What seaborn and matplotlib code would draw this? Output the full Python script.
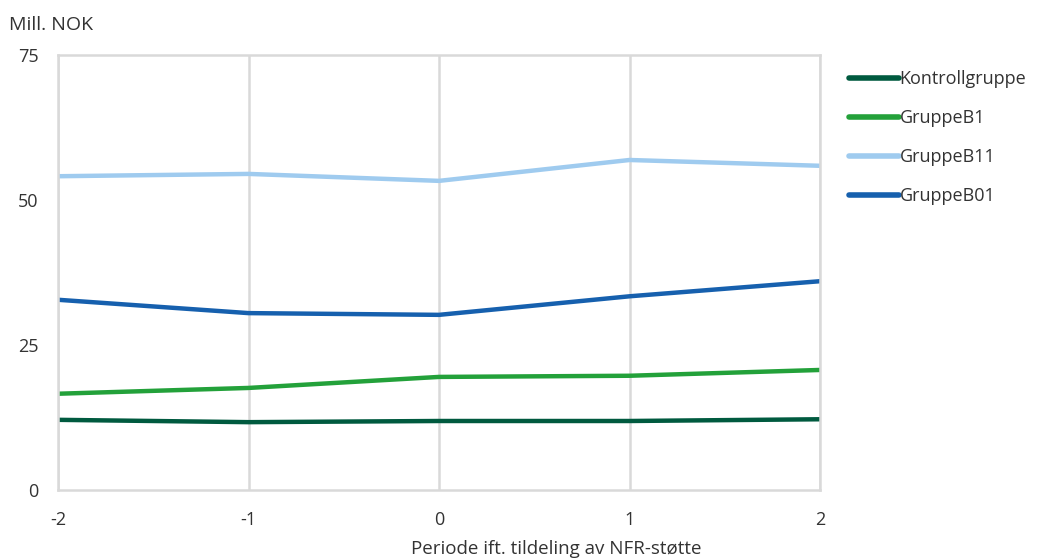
import matplotlib
matplotlib.use("Agg")
import matplotlib.pyplot as plt
import seaborn as sns
import pandas as pd

periods = [-2, -1, 0, 1, 2]
kontroll = [12.1, 11.7, 11.9, 11.9, 12.2]
gruppe_b1 = [16.6, 17.6, 19.5, 19.7, 20.7]
gruppe_b11 = [54.1, 54.5, 53.3, 56.9, 55.9]
gruppe_b01 = [32.8, 30.5, 30.2, 33.4, 36.0]

names = ["Kontrollgruppe", "GruppeB1", "GruppeB11", "GruppeB01"]
colors = ["#005a3f", "#23a13a", "#9fcbef", "#1660ae"]

df = pd.DataFrame({"periode": periods, "Kontrollgruppe": kontroll, "GruppeB1": gruppe_b1,
                   "GruppeB11": gruppe_b11, "GruppeB01": gruppe_b01})
long = df.melt(id_vars="periode", var_name="gruppe", value_name="verdi")

sns.set_style("white")
plt.rcParams["font.family"] = ["Open Sans", "DejaVu Sans"]

fig = plt.figure(figsize=(10.38, 5.59), dpi=100)
ax = fig.add_axes([0.0559, 0.1234, 0.7341, 0.7782])
sns.lineplot(data=long, x="periode", y="verdi", hue="gruppe", hue_order=names,
             palette=colors, linewidth=3.2, ax=ax, legend=False)

ax.set_xlim(-2, 2)
ax.set_ylim(0, 75)
ax.set_xticks(periods)
ax.set_xticklabels(["-2", "-1", "0", "1", "2"])
ax.set_yticks([0, 25, 50, 75])
ax.tick_params(axis="both", length=0, labelsize=13, colors="#333333")
ax.tick_params(axis="x", pad=15)
ax.tick_params(axis="y", pad=14)
ax.grid(axis="x", color="#d9d9d9", linewidth=1.8)
ax.grid(axis="y", visible=False)
for s in ax.spines.values():
    s.set_color("#d9d9d9")
    s.set_linewidth(1.8)
ax.set_xlabel("")
ax.set_ylabel("")

handles = [plt.Line2D([], [], color=c, linewidth=4) for c in colors]
fig.legend(handles, names, loc="upper left", bbox_to_anchor=(0.811, 0.888), frameon=False,
           fontsize=13, handlelength=2.75, handletextpad=0.05, labelspacing=1.17,
           labelcolor="#333333", borderaxespad=0)

fig.text(0.009, 0.955, "Mill. NOK", fontsize=14, color="#333333", va="center", ha="left")
fig.text(0.536, 0.018, "Periode ift. tildeling av NFR-støtte", fontsize=13.5,
         color="#333333", va="center", ha="center")

fig.savefig("out.png", dpi=100)
